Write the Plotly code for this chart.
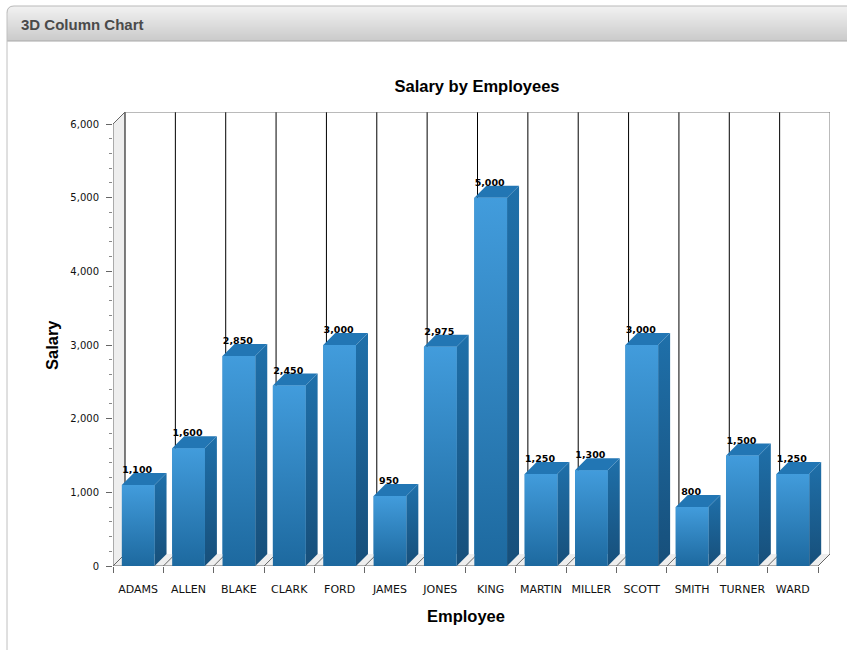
import plotly.graph_objects as go

employees = ["ADAMS", "ALLEN", "BLAKE", "CLARK", "FORD", "JAMES", "JONES", "KING",
             "MARTIN", "MILLER", "SCOTT", "SMITH", "TURNER", "WARD"]
salaries = [1100, 1600, 2850, 2450, 3000, 950, 2975, 5000, 1250, 1300, 3000, 800, 1500, 1250]
y_ticks = [0, 1000, 2000, 3000, 4000, 5000, 6000]

W, H = 847, 656
# plot box in pixels (includes the 3D depth)
L, R, T, B = 113, 830, 112, 566
DEPTH_PX = 12
n = len(employees)
cat_px = (R - DEPTH_PX - L) / n
val_px = (B - T - DEPTH_PX) / 6000
dx = DEPTH_PX / cat_px
dy = DEPTH_PX / val_px
x0, x1 = -0.5, n - 0.5
y_max = 6000
bw = 0.65

fig = go.Figure()

# base columns
fig.add_trace(go.Bar(x=list(range(n)), y=salaries, width=bw, marker=dict(color="#2b7fbd", line_width=0),
                     showlegend=False, hoverinfo="skip"))


def poly(xs, ys, color=None, grad=None, line=None):
    kw = dict(x=xs, y=ys, mode="lines", fill="toself", showlegend=False, hoverinfo="skip",
              line=dict(width=0) if line is None else dict(width=1, color=line))
    if grad:
        kw["fillgradient"] = dict(type="vertical", colorscale=grad)
        kw["fillcolor"] = None
    else:
        kw["fillcolor"] = color
    fig.add_trace(go.Scatter(**kw))


def lines(segs, color, width=1):
    xs, ys = [], []
    for a, b, c, d in segs:
        xs += [a, c, None]
        ys += [b, d, None]
    fig.add_trace(go.Scatter(x=xs, y=ys, mode="lines", line=dict(color=color, width=width),
                             showlegend=False, hoverinfo="skip"))


# walls and floor
poly([x0, x0 + dx, x0 + dx, x0, x0], [0, dy, y_max + dy, y_max, 0], color="#eeeeee")
poly([x0, x1, x1 + dx, x0 + dx, x0], [0, 0, dy, dy, 0], color="#eeeeee")

# back wall grid lines
bounds = [x0 + i for i in range(n + 1)]
lines([(b + dx, dy, b + dx, y_max + dy) for b in bounds[:-1]], "#000000", 1)
lines([(x1 + dx, dy, x1 + dx, y_max + dy), (x0 + dx, y_max + dy, x1 + dx, y_max + dy)], "#777777", 1)
# floor diagonals
lines([(b, 0, b + dx, dy) for b in bounds], "#666666", 1)
# axis lines
lines([(x0, 0, x0, y_max), (x0, y_max, x0 + dx, y_max + dy)], "#666666", 1)
lines([(x0, 0, x1, 0)], "#666666", 1)

# 3D columns
for i, v in enumerate(salaries):
    a, b = i - bw / 2, i + bw / 2
    poly([b, b + dx, b + dx, b, b], [0, dy, v + dy, v, 0],
         grad=[[0, "#174f7a"], [1, "#1f70aa"]])
    poly([a, b, b + dx, a + dx, a], [v, v, v + dy, v + dy, v], color="#2276b4")
    poly([a, b, b, a, a], [0, 0, v, v, 0],
         grad=[[0, "#1d699f"], [1, "#429cdc"]])

# value labels
fig.add_trace(go.Scatter(x=[i - 0.02 for i in range(n)], y=[v + dy + 30 for v in salaries], mode="text",
                         text=[f"{v:,}" for v in salaries], textposition="middle center",
                         textfont=dict(family="DejaVu Sans", size=9.5, color="#000000", weight="bold"),
                         showlegend=False, hoverinfo="skip"))

# page furniture: panel header
shapes = []
hx0, hy0, hy1 = 7, 6, 41
steps = 35
for k in range(steps):
    t = k / (steps - 1)
    c = int(242 - t * (242 - 203))
    ya = hy0 + (hy1 - hy0) * k / steps
    yb = hy0 + (hy1 - hy0) * (k + 1) / steps
    shapes.append(dict(type="rect", xref="paper", yref="paper", x0=hx0 / W, x1=1,
                       y0=1 - ya / H, y1=1 - yb / H, line_width=0, fillcolor=f"rgb({c},{c},{c})", layer="below"))
shapes.append(dict(type="line", xref="paper", yref="paper", x0=hx0 / W, x1=1, y0=1 - hy1 / H, y1=1 - hy1 / H,
                   line=dict(color="#a8a8a8", width=1), layer="below"))
shapes.append(dict(type="line", xref="paper", yref="paper", x0=14 / W, x1=1, y0=1 - hy0 / H, y1=1 - hy0 / H,
                   line=dict(color="#b8b8b8", width=1), layer="below"))
shapes.append(dict(type="line", xref="paper", yref="paper", x0=hx0 / W, x1=hx0 / W, y0=1 - 13 / H, y1=1 - 650 / H,
                   line=dict(color="#c0c0c0", width=1), layer="below"))


def P(px, py):
    return f"{px / W:.5f} {1 - py / H:.5f}"


# rounded panel corner
shapes.append(dict(type="path", xref="paper", yref="paper", layer="below", line_width=0, fillcolor="#ffffff",
                   path=f"M {P(5, 4)} L {P(14, 4)} L {P(14, 6)} Q {P(7, 6)} {P(7, 13)} L {P(5, 13)} Z"))
shapes.append(dict(type="path", xref="paper", yref="paper", layer="below", line=dict(color="#b8b8b8", width=1),
                   path=f"M {P(7, 13)} Q {P(7, 6)} {P(14, 6)}"))

title_font = dict(family="Liberation Sans", size=16.5, color="#000000")
fig.update_layout(
    width=W, height=H,
    margin=dict(l=0, r=0, t=0, b=0),
    paper_bgcolor="#ffffff", plot_bgcolor="rgba(0,0,0,0)",
    showlegend=False,
    shapes=shapes,
    title=dict(text="<b>Salary by Employees</b>", x=477 / W, y=1 - 86 / H, xanchor="center", yanchor="middle",
               font=title_font),
    annotations=[
        dict(text="<b>3D Column Chart</b>", xref="paper", yref="paper", x=19 / W, y=1 - 24 / H,
             xanchor="left", yanchor="middle", showarrow=False,
             font=dict(family="Liberation Sans", size=15, color="#4a4a4a")),
        dict(text="<b>Employee</b>", xref="paper", yref="paper", x=466 / W, y=1 - 616 / H,
             xanchor="center", yanchor="middle", showarrow=False, font=title_font),
        dict(text="<b>Salary</b>", xref="paper", yref="paper", x=52 / W, y=1 - 345 / H, textangle=-90,
             xanchor="center", yanchor="middle", showarrow=False, font=title_font),
    ],
    xaxis=dict(domain=[L / W, R / W], range=[x0, x1 + dx], tickmode="array",
               tickvals=list(range(n)), ticktext=employees, ticks="", showgrid=False, zeroline=False,
               showline=False, ticklabelstandoff=15, automargin=False,
               tickfont=dict(family="DejaVu Sans", size=11, color="#111111"),
               minor=dict(tickmode="array", tickvals=bounds, ticks="outside", ticklen=6, tickcolor="#666666",
                          showgrid=False)),
    yaxis=dict(domain=[1 - B / H, 1 - T / H], range=[0, y_max + dy], tickmode="array", tickvals=y_ticks,
               tickformat=",", ticks="outside", ticklen=6, tickcolor="#666666", showgrid=False, zeroline=False,
               showline=False, automargin=False, ticklabelstandoff=5,
               tickfont=dict(family="DejaVu Sans", size=10, color="#111111"),
               minor=dict(dtick=200, ticks="outside", ticklen=3, tickcolor="#888888", showgrid=False)),
)

fig.write_html("out.html", post_script="document.body.style.margin='0';", config={"displayModeBar": False})
